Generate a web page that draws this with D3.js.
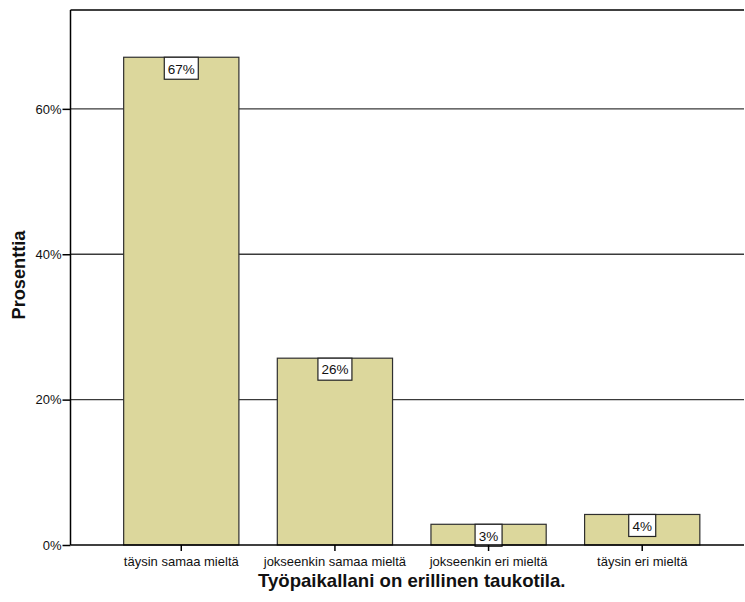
<!DOCTYPE html>
<html>
<head>
<meta charset="utf-8">
<script src="https://cdn.jsdelivr.net/npm/d3@7"></script>
<style>
  html, body { margin: 0; padding: 0; background: #fff; overflow: hidden; }
  svg { display: block; font-family: "Liberation Sans", Arial, sans-serif; }
</style>
</head>
<body>
<svg id="chart" width="745" height="602"></svg>
<script>
// Vastausjakauma: "Työpaikallani on erillinen taukotila."
const categories = ["täysin samaa mieltä", "jokseenkin samaa mieltä", "jokseenkin eri mieltä", "täysin eri mieltä"];
const percents = [67.1, 25.7, 2.85, 4.2];
const valueLabels = ["67%", "26%", "3%", "4%"];
const yTicks = [0, 20, 40, 60];
const xTitle = "Työpaikallani on erillinen taukotila.";
const yTitle = "Prosenttia";

const svg = d3.select("#chart");
const plot = { left: 70.5, right: 753, top: 10, bottom: 545 };
const lineEnd = 744;

const x = d3.scaleBand()
  .domain(categories)
  .range([plot.left, plot.right])
  .paddingInner(0.25)
  .paddingOuter(0.346);

const y = d3.scaleLinear()
  .domain([0, 73.6])
  .range([plot.bottom, plot.top]);

// horizontal grid lines
svg.append("g")
  .selectAll("line")
  .data(yTicks.filter(d => d > 0))
  .join("line")
  .attr("x1", plot.left).attr("x2", lineEnd)
  .attr("y1", d => y(d)).attr("y2", d => y(d))
  .attr("stroke", "#3a3a3a").attr("stroke-width", 1.3);

// top frame line
svg.append("line")
  .attr("x1", plot.left).attr("x2", lineEnd)
  .attr("y1", plot.top).attr("y2", plot.top)
  .attr("stroke", "#000").attr("stroke-width", 1.5);

// bars
svg.append("g")
  .selectAll("rect")
  .data(percents)
  .join("rect")
  .attr("x", (d, i) => x(categories[i]))
  .attr("width", x.bandwidth())
  .attr("y", d => y(d))
  .attr("height", d => plot.bottom - y(d))
  .attr("fill", "#dcd79c")
  .attr("stroke", "#2f2f2f")
  .attr("stroke-width", 1.2);

// value labels in boxes at the top of each bar
const lab = svg.append("g")
  .selectAll("g")
  .data(percents)
  .join("g")
  .attr("transform", (d, i) => `translate(${x(categories[i]) + x.bandwidth() / 2},${y(d)})`);

lab.append("rect")
  .attr("x", (d, i) => valueLabels[i].length > 2 ? -17 : -13.5)
  .attr("width", (d, i) => valueLabels[i].length > 2 ? 34 : 27)
  .attr("y", 0)
  .attr("height", 22)
  .attr("fill", "#fff")
  .attr("stroke", "#222")
  .attr("stroke-width", 1.2);

lab.append("text")
  .attr("text-anchor", "middle")
  .attr("y", 16.3)
  .attr("font-size", 13.5)
  .attr("fill", "#111")
  .text((d, i) => valueLabels[i]);

// y axis
const yAxis = d3.axisLeft(y)
  .tickValues(yTicks)
  .tickFormat(d => d + "%")
  .tickSize(8)
  .tickPadding(1);

const gy = svg.append("g")
  .attr("transform", `translate(${plot.left},0)`)
  .call(yAxis);
gy.select(".domain").attr("stroke", "#000").attr("stroke-width", 1.5)
  .attr("d", `M0,${plot.top}V${plot.bottom}`);
gy.selectAll(".tick line").attr("stroke", "#000").attr("stroke-width", 1.5);
gy.selectAll(".tick text").attr("font-size", 13).attr("fill", "#111")
  .attr("font-family", "Liberation Sans, Arial, sans-serif");

// x axis
const xAxis = d3.axisBottom(x)
  .tickSize(6)
  .tickPadding(6);

const gx = svg.append("g")
  .attr("transform", `translate(0,${plot.bottom})`)
  .call(xAxis);
gx.select(".domain").attr("stroke", "#000").attr("stroke-width", 1.5)
  .attr("d", `M${plot.left},0H${lineEnd}`);
gx.selectAll(".tick line").attr("stroke", "#000").attr("stroke-width", 1.5);
gx.selectAll(".tick text").attr("font-size", 13).attr("fill", "#111")
  .attr("font-family", "Liberation Sans, Arial, sans-serif");

// axis titles
svg.append("text")
  .attr("x", (plot.left + plot.right) / 2)
  .attr("y", 587)
  .attr("text-anchor", "middle")
  .attr("font-size", 18.6)
  .attr("font-weight", "bold")
  .attr("fill", "#111")
  .text(xTitle);

svg.append("text")
  .attr("transform", `translate(25,275) rotate(-90)`)
  .attr("text-anchor", "middle")
  .attr("font-size", 18.2)
  .attr("font-weight", "bold")
  .attr("fill", "#111")
  .text(yTitle);
</script>
</body>
</html>
